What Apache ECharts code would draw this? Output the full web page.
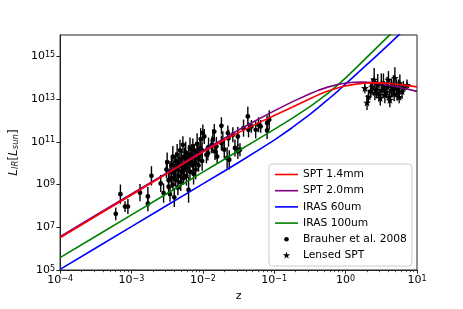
<!DOCTYPE html>
<html><head><meta charset="utf-8">
<script src="https://cdn.jsdelivr.net/npm/echarts@6/dist/echarts.min.js"></script>
<style>html,body{margin:0;padding:0;background:#fff}#c{width:463px;height:309px}</style>
</head><body><div id="c"></div>
<script>
// ---- data (log10 values) ----
const curveLogZ = [-4,-3.5,-3,-2.5,-2,-1.75,-1.5,-1.25,-1,-0.75,-0.5,-0.375,-0.25,-0.125,0,0.125,0.25,0.375,0.5,0.625,0.75,0.875,1];
const spt14LogL = [6.51,7.51,8.51,9.51,10.52,10.99,11.43,11.84,12.23,12.62,13.02,13.21,13.38,13.51,13.62,13.69,13.74,13.76,13.76,13.73,13.68,13.63,13.57];
const spt20LogL = [6.56,7.56,8.56,9.56,10.58,11.07,11.55,12.01,12.45,12.87,13.25,13.42,13.56,13.67,13.75,13.79,13.80,13.77,13.72,13.64,13.55,13.46,13.36];
const iras60LogL = [5.03,6.03,7.03,8.03,9.03,9.53,10.03,10.55,11.08,11.66,12.28,12.62,12.97,13.33,13.71,14.09,14.47,14.85,15.23,15.62,16.02,16.40,16.80];
const iras100LogL = [5.58,6.58,7.58,8.58,9.58,10.08,10.58,11.08,11.58,12.10,12.65,12.95,13.27,13.62,13.99,14.39,14.80,15.21,15.62,16.03,16.43,16.83,17.20];

const brLogZ = [-3.22,-3.155,-3.09,-3.05,-2.88,-2.77,-2.77,-2.72,-2.59,-2.55,-2.51,-2.50,
-2.48,-2.48,-2.46,-2.46,-2.44,-2.44,-2.42,-2.42,-2.41,-2.40,-2.40,-2.39,-2.38,-2.38,-2.36,-2.36,-2.35,-2.34,-2.34,-2.32,-2.32,-2.31,-2.30,-2.30,-2.28,-2.28,-2.27,-2.26,-2.26,-2.24,-2.24,-2.23,-2.22,-2.22,-2.20,-2.20,-2.19,-2.18,-2.18,-2.16,-2.16,-2.14,-2.14,-2.13,-2.12,-2.12,-2.10,-2.10,-2.08,-2.08,-2.06,-2.06,-2.04,-2.04,-2.03,-2.01,-2.01,-2.00,-1.98,
-1.95,-1.93,-1.92,-1.88,-1.87,-1.86,-1.84,-1.83,-1.81,-1.80,-1.74,-1.74,-1.72,-1.70,-1.66,-1.65,-1.64,-1.63,-1.58,-1.55,-1.51,-1.51,-1.48,-1.43,-1.37,-1.36,-1.32,-1.26,-1.22,-1.19,-1.10,-1.10,-1.07];
const brLogL = [7.63,8.55,7.97,7.97,8.62,8.44,8.10,9.41,9.05,8.60,9.70,10.05,
9.20,8.90,9.60,8.55,9.90,9.30,10.30,9.00,9.65,8.40,9.50,9.85,10.10,9.20,9.70,10.40,8.85,9.40,10.00,9.90,10.60,9.10,10.20,9.60,10.86,9.90,9.30,10.30,9.70,10.00,10.50,9.40,10.20,9.80,8.75,10.40,10.00,9.60,10.70,10.10,10.40,9.90,10.80,9.50,10.30,10.60,10.00,9.70,10.50,10.90,10.20,9.90,10.70,10.40,11.13,10.60,10.10,11.41,11.25,
10.39,10.47,10.75,10.78,10.86,11.09,11.48,10.55,10.78,10.31,11.75,10.94,11.05,10.63,10.24,11.41,11.17,10.16,11.33,10.71,10.55,11.25,10.63,11.64,12.19,11.56,11.72,11.56,11.80,11.72,11.88,11.53,12.03];
const brErr = [0.30,0.45,0.25,0.35,0.40,0.45,0.35,0.45,0.40,0.45,0.40,0.45,
0.45,0.30,0.50,0.35,0.40,0.45,0.50,0.30,0.40,0.45,0.35,0.50,0.40,0.30,0.45,0.50,0.35,0.40,0.45,0.30,0.50,0.40,0.35,0.45,0.40,0.50,0.30,0.45,0.35,0.40,0.50,0.45,0.30,0.40,0.60,0.45,0.35,0.40,0.50,0.30,0.45,0.40,0.35,0.50,0.45,0.30,0.40,0.45,0.35,0.50,0.40,0.30,0.45,0.35,0.50,0.40,0.45,0.40,0.35,
0.40,0.35,0.45,0.30,0.40,0.50,0.35,0.40,0.45,0.30,0.40,0.35,0.45,0.40,0.50,0.35,0.40,0.45,0.35,0.40,0.35,0.45,0.30,0.40,0.45,0.35,0.30,0.40,0.35,0.30,0.35,0.40,0.45];

const lensLogZ = [0.27,0.30,0.32,0.35,0.37,0.40,0.41,0.43,0.45,0.47,0.485,0.50,0.51,0.53,0.54,0.55,0.57,0.58,0.60,0.61,0.62,0.64,0.65,0.67,0.68,0.69,0.71,0.72,0.74,0.75,0.76,0.79,0.81,0.86];
const lensLogL = [13.52,12.84,13.12,13.40,13.59,13.91,13.30,13.44,13.67,13.20,13.05,13.75,13.44,13.75,13.50,13.20,13.35,13.59,13.91,13.10,12.97,13.55,13.44,13.67,13.25,13.99,13.50,13.28,13.52,13.10,13.75,13.36,13.55,13.67];
const lensErr = [0.25,0.35,0.30,0.35,0.40,0.55,0.35,0.40,0.50,0.30,0.35,0.45,0.40,0.45,0.35,0.40,0.30,0.45,0.40,0.30,0.35,0.40,0.35,0.45,0.35,0.50,0.40,0.35,0.40,0.30,0.40,0.35,0.30,0.25];

const xTickValues = [1e-4,1e-3,1e-2,1e-1,1,10];
const yTickValues = [1e5,1e7,1e9,1e11,1e13,1e15];

// ---- build ----
const P = v => Math.pow(10, v);
const curve = arr => curveLogZ.map((z,i)=>[P(z),P(arr[i])]);
const errData = (lz,ll,le) => lz.map((z,i)=>[P(z),P(ll[i]),P(ll[i]-le[i]),P(ll[i]+le[i])]);
const xMinor = [];
for (let k=-4;k<1;k++) for (let m=2;m<10;m++) xMinor.push(m*Math.pow(10,k));

const FF = 'DejaVu Sans';
const supLabel = v => { const e = Math.round(Math.log10(v)); return '{b|10}{s|' + String(e).replace('-', '\u2212') + '}'; };
const richSup = { b:{fontSize:11,fontFamily:FF,color:'#000'}, s:{fontSize:8,fontFamily:FF,color:'#000',verticalAlign:'top'} };

function starPoints(cx, cy, R){
  const pts=[]; const r=R*0.4;
  for(let i=0;i<10;i++){const a=-Math.PI/2+i*Math.PI/5; const rr=i%2?r:R; pts.push([cx+rr*Math.cos(a), cy+rr*Math.sin(a)]);}
  return pts;
}
function errRender(kind){
  return function(params, api){
    const p = api.coord([api.value(0), api.value(1)]);
    const lo = api.coord([api.value(0), api.value(2)]);
    const hi = api.coord([api.value(0), api.value(3)]);
    const ch = [{type:'line', shape:{x1:p[0],y1:lo[1],x2:p[0],y2:hi[1]}, style:{stroke:'#000',lineWidth:1.4}}];
    if(kind==='dot') ch.push({type:'circle', shape:{cx:p[0],cy:p[1],r:2.4}, style:{fill:'#000'}});
    else ch.push({type:'polygon', shape:{points:starPoints(p[0],p[1]+0.5,4.2)}, style:{fill:'#000'}});
    return {type:'group', children:ch};
  };
}
const dotIcon = 'path://M0,0M10,10M7.3,5A2.3,2.3,0,1,1,2.7,5A2.3,2.3,0,1,1,7.3,5Z';
const starIcon = 'path://M0,0M10,10' + (function(){const s=starPoints(5,5,3.8);return 'M'+s.map(q=>q[0].toFixed(2)+','+q[1].toFixed(2)).join('L')+'Z';})();
const lineIcon = 'path://M0,0M23,10M0,4.2L23,4.2L23,5.8L0,5.8Z';

const lineSeries = (name, color, arr, z) => ({
  type:'line', name, data:curve(arr), symbol:'none', showSymbol:false, smooth:false,
  lineStyle:{color, width:1.6}, itemStyle:{color}, z, clip:true, animation:false
});

const chart = echarts.init(document.getElementById('c'), null, {renderer:'canvas'});
chart.setOption({
  animation:false,
  grid:{left:58, right:46, top:35, bottom:39, show:true, borderColor:'#222', borderWidth:1, backgroundColor:'transparent'},
  xAxis:[{
    type:'log', logBase:10, min:1e-4, max:10, position:'bottom',
    name:'z', nameLocation:'middle', nameGap:20, nameTextStyle:{fontSize:11, fontFamily:FF, color:'#000'},
    axisLine:{show:true, lineStyle:{color:'#222', width:1}},
    axisTick:{show:true, inside:false, length:3.7, customValues:xTickValues, lineStyle:{color:'#222', width:1}},
    axisLabel:{customValues:xTickValues, margin:5, formatter:supLabel, rich:richSup},
    splitLine:{show:false}, minorTick:{show:false}
  },{
    type:'log', logBase:10, min:1e-4, max:10, position:'bottom', gridIndex:0,
    axisLine:{show:false},
    axisTick:{show:true, inside:false, length:2.2, customValues:xMinor, lineStyle:{color:'#222', width:0.8}},
    axisLabel:{show:false}, splitLine:{show:false}
  }],
  yAxis:{
    type:'log', logBase:10, min:1e5, max:1e16,
    name:'{i|L}{sub|IR}{n|[}{i|L}{sub|sun}{n|]}', nameLocation:'middle', nameGap:33, nameRotate:90,
    nameTextStyle:{rich:{
      i:{fontSize:12,fontStyle:'italic',fontFamily:FF,color:'#222'},
      n:{fontSize:12,fontFamily:FF,color:'#222'},
      sub:{fontSize:8.5,fontStyle:'italic',fontFamily:FF,color:'#222',verticalAlign:'bottom'}
    }},
    axisLine:{show:true, lineStyle:{color:'#222', width:1}},
    axisTick:{show:true, inside:false, length:3.7, customValues:yTickValues, lineStyle:{color:'#222', width:1}},
    axisLabel:{customValues:yTickValues, margin:5, formatter:supLabel, rich:richSup},
    splitLine:{show:false}, minorTick:{show:false}
  },
  legend:{
    orient:'vertical', left:269, top:164, padding:[5,5,5,6],
    itemWidth:23, itemHeight:10, itemGap:5.2, symbolKeepAspect:true,
    backgroundColor:'rgba(255,255,255,0.85)', borderColor:'#cccccc', borderWidth:1, borderRadius:3,
    textStyle:{fontSize:10.7, fontFamily:FF, color:'#000', lineHeight:10},
    data:[
      {name:'SPT 1.4mm', icon:lineIcon, itemStyle:{color:'#ff0000'}},
      {name:'SPT 2.0mm', icon:lineIcon, itemStyle:{color:'#800080'}},
      {name:'IRAS 60um', icon:lineIcon, itemStyle:{color:'#0000ff'}},
      {name:'IRAS 100um', icon:lineIcon, itemStyle:{color:'#008000'}},
      {name:'Brauher et al. 2008', icon:dotIcon, itemStyle:{color:'#000'}},
      {name:'Lensed SPT', icon:starIcon, itemStyle:{color:'#000'}}
    ]
  },
  series:[
    {type:'custom', name:'Brauher et al. 2008', renderItem:errRender('dot'), data:errData(brLogZ,brLogL,brErr), encode:{x:0,y:1}, itemStyle:{color:'#000'}, clip:true, z:2},
    {type:'custom', name:'Lensed SPT', renderItem:errRender('star'), data:errData(lensLogZ,lensLogL,lensErr), encode:{x:0,y:1}, itemStyle:{color:'#000'}, clip:true, z:2},
    lineSeries('IRAS 100um','#008000',iras100LogL,3),
    lineSeries('IRAS 60um','#0000ff',iras60LogL,3),
    lineSeries('SPT 2.0mm','#800080',spt20LogL,4),
    lineSeries('SPT 1.4mm','#ff0000',spt14LogL,5)
  ]
});
</script></body></html>
